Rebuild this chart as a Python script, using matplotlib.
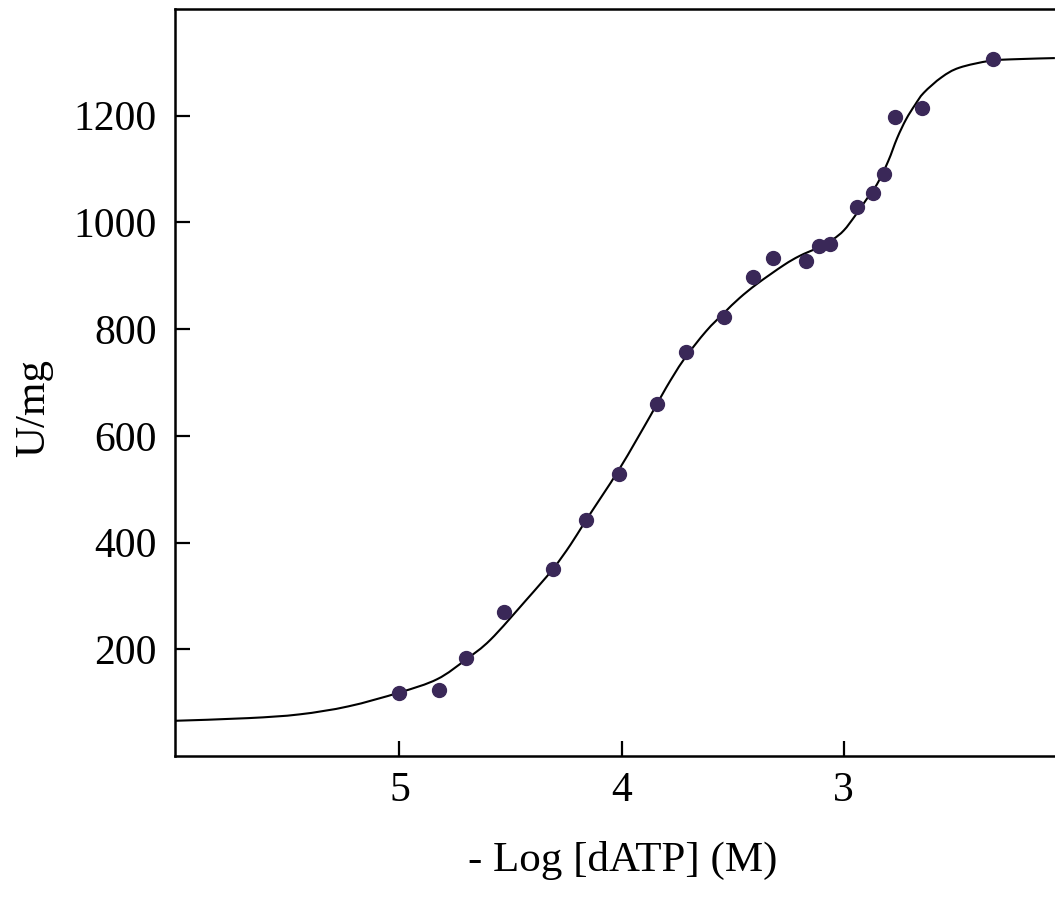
import matplotlib
matplotlib.use("Agg")
import matplotlib.pyplot as plt
from matplotlib.path import Path
from matplotlib.patches import PathPatch

# Measured data points (-log[dATP], U/mg)
x_pts = [5.00, 4.82, 4.70, 4.53, 4.31, 4.16, 4.01, 3.84, 3.71, 3.54, 3.41,
         3.32, 3.17, 3.11, 3.06, 2.94, 2.87, 2.82, 2.77, 2.65, 2.33]
y_pts = [119, 123, 183, 269, 350, 443, 528, 660, 758, 823, 898,
         934, 928, 956, 960, 1029, 1055, 1091, 1198, 1215, 1306]

# Fitted curve
x_fit = [6.01, 5.68, 5.45, 5.23, 5.00, 4.83, 4.70, 4.59, 4.43, 4.31, 4.23,
         4.16, 4.01, 3.87, 3.80, 3.72, 3.62, 3.54, 3.47, 3.39, 3.27, 3.20,
         3.12, 3.05, 3.00, 2.95, 2.90, 2.85, 2.80, 2.76, 2.72, 2.68, 2.64,
         2.56, 2.48, 2.34, 2.22, 2.05]
y_fit = [66, 71, 78, 93, 119, 144, 181, 218, 292, 350, 396,
         442, 538, 638, 690, 743, 796, 830, 858, 885, 920, 937,
         952, 968, 985, 1012, 1042, 1072, 1115, 1158, 1193, 1220, 1243,
         1272, 1290, 1303, 1306, 1308]

x_ticks = [5, 4, 3]
y_ticks = [200, 400, 600, 800, 1000, 1200]

plt.rcParams['font.family'] = ['Liberation Serif', 'DejaVu Serif']

W, H = 1055, 897
fig = plt.figure(figsize=(W / 100, H / 100), dpi=100)
ax = fig.add_axes([175 / W, 1 - 756 / H, (W - 175) / W + 0.002, (756 - 9) / H])


def smooth_path(xs, ys):
    """Catmull-Rom curve through the points, expressed as cubic Bezier segments."""
    verts = [(xs[0], ys[0])]
    codes = [Path.MOVETO]
    n = len(xs)
    for i in range(n - 1):
        x0, y0 = (xs[i - 1], ys[i - 1]) if i > 0 else (xs[i], ys[i])
        x1, y1 = xs[i], ys[i]
        x2, y2 = xs[i + 1], ys[i + 1]
        x3, y3 = (xs[i + 2], ys[i + 2]) if i + 2 < n else (x2, y2)
        c1 = (x1 + (x2 - x0) / 6.0, y1 + (y2 - y0) / 6.0)
        c2 = (x2 - (x3 - x1) / 6.0, y2 - (y3 - y1) / 6.0)
        verts += [c1, c2, (x2, y2)]
        codes += [Path.CURVE4] * 3
    return Path(verts, codes)


ax.add_patch(PathPatch(smooth_path(x_fit, y_fit), facecolor='none',
                       edgecolor='black', lw=1.5, zorder=2))
ax.plot(x_pts, y_pts, 'o', color='#3a2858', markersize=10, zorder=3)

ax.set_xlim(6.01, 2.04)
ax.set_ylim(0, 1400)
ax.set_xticks(x_ticks)
ax.set_xticklabels([str(t) for t in x_ticks])
ax.set_yticks(y_ticks)
ax.set_yticklabels([str(t) for t in y_ticks])

ax.tick_params(direction='in', length=11, width=1.6, labelsize=30, pad=11)
ax.tick_params(axis='y', pad=13)
for s in ['left', 'bottom', 'top']:
    ax.spines[s].set_linewidth(1.8)
ax.spines['right'].set_visible(False)

fig.text(623 / W, 1 - 860 / H, '- Log [dATP] (M)', ha='center', va='center', fontsize=31)
fig.text(34 / W, 1 - 408 / H, 'U/mg', ha='center', va='center', rotation=90, fontsize=31)

fig.savefig('out.png', dpi=100)
